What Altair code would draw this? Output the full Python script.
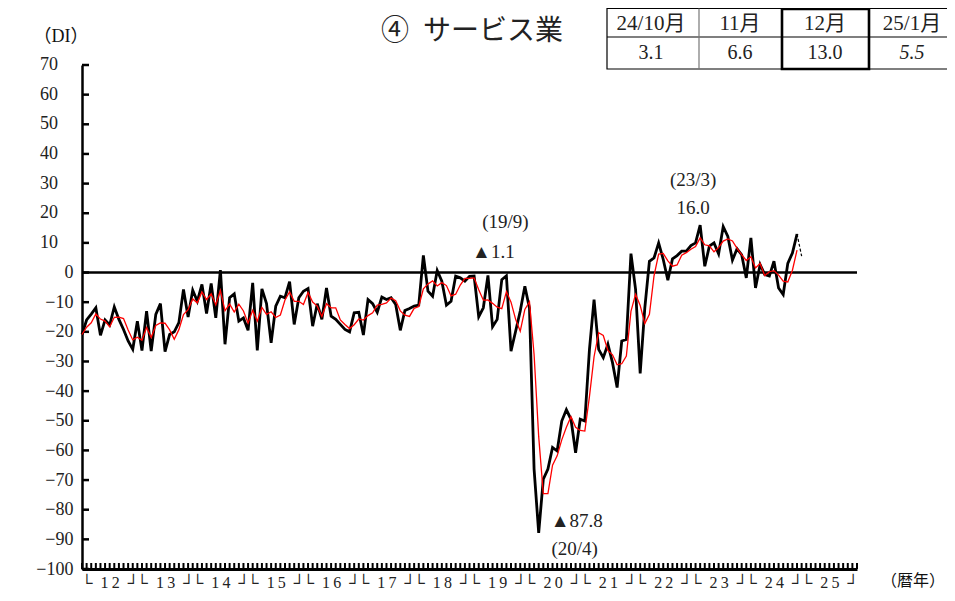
import altair as alt
import pandas as pd

# ---------------- data: monthly DI, services (2012/1 .. 2024/12) ----------------
di_2012 = [-20.9, -16.0, -14.0, -11.9, -21.2, -16.0, -17.7, -11.6, -15.8, -19.2, -23.1, -25.9]
di_2013 = [-16.4, -26.3, -13.0, -26.5, -14.1, -10.5, -26.7, -20.9, -20.0, -16.9, -5.7, -15.0]
di_2014 = [-6.0, -9.7, -4.0, -13.8, -3.7, -15.3, 0.8, -24.2, -8.5, -7.2, -16.4, -15.3]
di_2015 = [-19.5, -3.5, -26.3, -5.5, -10.5, -23.7, -11.3, -8.0, -8.5, -3.1, -17.5, -8.5]
di_2016 = [-6.3, -5.4, -18.1, -10.5, -15.8, -5.2, -14.7, -15.8, -17.5, -19.2, -20.0, -13.6]
di_2017 = [-13.4, -21.1, -9.1, -10.5, -13.4, -8.3, -9.1, -8.5, -10.8, -19.5, -12.8, -12.1]
di_2018 = [-11.3, -11.0, 5.8, -6.3, -8.0, 0.7, -2.9, -11.0, -9.7, -1.2, -1.8, -2.9]
di_2019 = [-1.3, -1.2, -14.9, -11.9, -1.0, -18.3, -15.8, -2.4, -1.1, -26.5, -19.8, -13.0]
di_2020 = [-4.6, -12.0, -66.3, -87.8, -69.7, -66.3, -59.0, -60.2, -50.1, -46.3, -49.5, -60.8]
di_2021 = [-49.5, -50.1, -26.0, -9.1, -25.9, -28.7, -24.2, -30.4, -38.8, -23.1, -22.6, 6.4]
di_2022 = [-5.7, -34.0, -12.0, 3.8, 4.9, 10.0, 4.4, -2.6, 4.6, 5.7, 7.2, 7.2]
di_2023 = [9.1, 10.0, 16.0, 2.1, 8.9, 10.0, 6.3, 15.5, 12.2, 4.2, 8.0, 6.0]
di_2024 = [-1.8, 11.7, -5.2, 2.7, -0.7, -1.2, 3.8, -5.2, -7.4, 3.1, 6.6, 13.0]
di_forecast_2025_1 = [5.5]

year_labels = ["12", "13", "14", "15", "16", "17", "18", "19", "20", "21", "22", "23", "24", "25"]
y_ticks = [-100, -90, -80, -70, -60, -50, -40, -30, -20, -10, 0, 10, 20, 30, 40, 50, 60, 70]

table_headers = ["24/10月", "11月", "12月", "25/1月"]
table_values = ["3.1", "6.6", "13.0", "5.5"]

ann_points = ["19/9", "20/4", "23/3"]          # (year/month) of annotated points
ann_values = [-1.1, -87.8, 16.0]

# ---------------- assemble ----------------
di = (di_2012 + di_2013 + di_2014 + di_2015 + di_2016 + di_2017 + di_2018
      + di_2019 + di_2020 + di_2021 + di_2022 + di_2023 + di_2024)
n = len(di)
df = pd.DataFrame({"t": list(range(n)), "di": di})
df_fc = pd.DataFrame({"t": [n - 1, n], "di": [di[-1], di_forecast_2025_1[0]]})
n_months_axis = 12 * len(year_labels)
df_mticks = pd.DataFrame({"t": list(range(n_months_axis + 1))})
df_yticks = pd.DataFrame({"v": y_ticks})
df_ypos = pd.DataFrame({"v": [v for v in y_ticks if v > 0]})
df_zero = pd.DataFrame({"v": [0]})


def month_index(ym):
    yy, mm = ym.split("/")
    return (int(yy) - 12) * 12 + int(mm) - 1


def fmt(v):
    return ("▲" if v < 0 else "") + f"{abs(v):.1f}"


W, H = 775, 504
SERIF = "Liberation Serif, DejaVu Serif, Noto Sans CJK JP"
xs = alt.Scale(domain=[0, n_months_axis], nice=False, zero=False)
ys = alt.Scale(domain=[-100, 70], nice=False, zero=False)

EN, THIN = "\u2002", "\u2009"
label_arr = "[" + ",".join("'└" + EN + y[0] + THIN + y[1] + EN + "┘'" for y in year_labels) + "]"
x_axis = alt.Axis(values=[6 + 12 * k for k in range(len(year_labels))],
                  labelExpr=label_arr + "[floor(datum.value / 12)]",
                  tickSize=0, domainWidth=3, domainColor="black", grid=False,
                  title=None, labelFont="Liberation Serif, DejaVu Sans", labelFontSize=16,
                  labelColor="#222", labelPadding=5, labelOverlap=False)
y_axis = alt.Axis(values=y_ticks, tickSize=0, domainWidth=2.5, domainColor="black",
                  grid=False, title=None, labelFont=SERIF, labelFontSize=18,
                  labelColor="#222", labelPadding=9,
                  labelExpr="datum.value > 0 ? '' : datum.label")


def X(f):
    return alt.X(f + ":Q", scale=xs, axis=x_axis)


def Y(f):
    return alt.Y(f + ":Q", scale=ys, axis=y_axis)


one = pd.DataFrame({"a": [0]})

zero_line = alt.Chart(df_zero).mark_rule(color="black", strokeWidth=2.5).encode(y=Y("v"))
m_ticks = alt.Chart(df_mticks).mark_rule(color="black", strokeWidth=2).encode(
    x=X("t"), y=alt.value(H), y2=alt.value(H - 6))
y_inticks = alt.Chart(df_yticks).mark_rule(color="black", strokeWidth=2.5).encode(
    y=Y("v"), x=alt.value(0), x2=alt.value(7))
y_poslabels = alt.Chart(df_ypos).mark_text(
    font=SERIF, fontSize=18, color="#222", align="right", baseline="middle").encode(
    y=Y("v"), x=alt.value(-24), text="v:Q")

black = alt.Chart(df).mark_line(color="black", strokeWidth=2.8).encode(x=X("t"), y=Y("di"))
red = alt.Chart(df).transform_window(
    ma="mean(di)", frame=[-2, 0], sort=[alt.SortField("t")]
).mark_line(color="#ff0000", strokeWidth=1.3).encode(x=X("t"), y=Y("ma"))
fc = alt.Chart(df_fc).mark_line(color="black", strokeWidth=1.2, strokeDash=[3, 2]).encode(
    x=X("t"), y=Y("di"))

layers = [zero_line, m_ticks, y_inticks, y_poslabels, black, red, fc]

# annotations
ann_offsets = {"19/9": [(-13, -24, "val"), (-1, -54, "date")],
               "20/4": [(38, -12, "val"), (36, 16, "date")],
               "23/3": [(-7, -17, "val"), (-7, -45, "date")]}
for p, v in zip(ann_points, ann_values):
    d = pd.DataFrame({"t": [month_index(p)], "v": [v]})
    for dx, dy, kind in ann_offsets[p]:
        txt = fmt(v) if kind == "val" else "(" + p + ")"
        layers.append(alt.Chart(d).mark_text(
            text=txt, dx=dx, dy=dy, font=SERIF, fontSize=19, color="#222",
            align="center", baseline="middle").encode(x=X("t"), y=Y("v")))

# titles
layers.append(alt.Chart(one).mark_text(text="④\u2002サービス業", font="Noto Sans CJK JP",
                                        fontSize=28, color="#222", align="center",
                                        baseline="middle").encode(
    x=alt.value(390), y=alt.value(-33)))
layers.append(alt.Chart(one).mark_text(text="（DI）", font=SERIF, fontSize=18,
                                        color="#111", align="center",
                                        baseline="middle").encode(
    x=alt.value(-21), y=alt.value(-28)))
layers.append(alt.Chart(one).mark_text(text="（暦年）", font=SERIF, fontSize=16,
                                        color="#111", align="center",
                                        baseline="middle").encode(
    x=alt.value(831), y=alt.value(H + 12)))

# table (top right)
col_edges = [525, 617, 700, 787, 885]
row_edges = [-56.5, -28, 4]
layers.append(alt.Chart(one).mark_rect(fill="white", stroke="black", strokeWidth=1.2).encode(
    x=alt.value(col_edges[0]), x2=alt.value(col_edges[-1]),
    y=alt.value(row_edges[0]), y2=alt.value(row_edges[-1])))
layers.append(alt.Chart(one).mark_rule(color="black", strokeWidth=1.2).encode(
    x=alt.value(col_edges[0]), x2=alt.value(col_edges[-1]),
    y=alt.value(row_edges[1]), y2=alt.value(row_edges[1])))
for xe in col_edges[1:-1]:
    layers.append(alt.Chart(one).mark_rule(color="#777", strokeWidth=1.2).encode(
        x=alt.value(xe), x2=alt.value(xe),
        y=alt.value(row_edges[0]), y2=alt.value(row_edges[-1])))
layers.append(alt.Chart(one).mark_rect(fill=None, stroke="black", strokeWidth=2.6).encode(
    x=alt.value(col_edges[2]), x2=alt.value(col_edges[3]),
    y=alt.value(row_edges[0] + 0.5), y2=alt.value(row_edges[-1])))
text_centers = [569, 658, 743, 830]
for i, (hd, vl) in enumerate(zip(table_headers, table_values)):
    cx = text_centers[i]
    layers.append(alt.Chart(one).mark_text(text=hd, font=SERIF, fontSize=21, color="#222",
                                            align="center", baseline="middle").encode(
        x=alt.value(cx), y=alt.value((row_edges[0] + row_edges[1]) / 2 + 1)))
    layers.append(alt.Chart(one).mark_text(
        text=vl, font=SERIF, fontSize=20, color="#222", align="center", baseline="middle",
        fontStyle="italic" if i == len(table_values) - 1 else "normal").encode(
        x=alt.value(cx), y=alt.value((row_edges[1] + row_edges[2]) / 2)))

chart = alt.layer(*layers).properties(
    width=W, height=H,
    background="white",
    autosize=alt.AutoSizeParams(type="none"),
    padding={"left": 74, "top": 57, "right": 90, "bottom": 21},
).configure_view(strokeWidth=0)

chart.save("out.html", embed_options={"renderer": "svg", "actions": False})
